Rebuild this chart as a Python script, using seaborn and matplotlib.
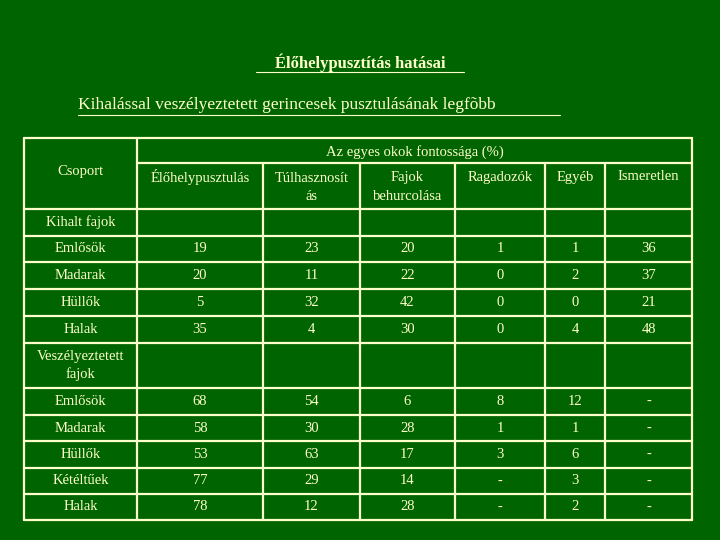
import matplotlib
matplotlib.use("Agg")
import matplotlib.pyplot as plt
import seaborn as sns

sns.set_style("white")
plt.rcParams['font.family'] = ['Liberation Serif', 'DejaVu Serif']

BG = "#006400"
FG = "#FFFFCC"

title = "Élőhelypusztítás hatásai"
subtitle = "Kihalással veszélyeztetett gerincesek pusztulásának legfõbb"
header_group = "Az egyes okok fontossága (%)"
corner = "Csoport"
causes = ["Élőhelypusztulás", "Túlhasznosít\nás", "Fajok\nbehurcolása",
          "Ragadozók", "Egyéb", "Ismeretlen"]

section_extinct = "Kihalt fajok"
extinct_groups = ["Emlősök", "Madarak", "Hüllők", "Halak"]
extinct_values = [
    ["19", "23", "20", "1", "1", "36"],
    ["20", "11", "22", "0", "2", "37"],
    ["5", "32", "42", "0", "0", "21"],
    ["35", "4", "30", "0", "4", "48"],
]
section_threat = "Veszélyeztetett\nfajok"
threat_groups = ["Emlősök", "Madarak", "Hüllők", "Kétéltűek", "Halak"]
threat_values = [
    ["68", "54", "6", "8", "12", "-"],
    ["58", "30", "28", "1", "1", "-"],
    ["53", "63", "17", "3", "6", "-"],
    ["77", "29", "14", "-", "3", "-"],
    ["78", "12", "28", "-", "2", "-"],
]

# layout in pixel space
col_x = [24, 137, 263, 360, 455, 545, 605, 692]
row_y = [138, 163, 209, 236, 262, 289, 316, 343, 388, 415, 441, 468, 494, 520]

fig = plt.figure(figsize=(7.2, 5.4), dpi=100, facecolor=BG)
ax = fig.add_axes([0, 0, 1, 1])
ax.set_facecolor(BG)
ax.set_xlim(0, 720)
ax.set_ylim(540, 0)
ax.axis("off")

fs = 10.5
ax.text(360, 63, title, ha="center", va="center", color=FG, fontsize=12, fontweight="bold")
ax.plot([256, 464], [72, 72], color=FG, lw=0.8)
ax.text(78, 105, subtitle, ha="left", va="center", color=FG, fontsize=12.5)
ax.plot([78, 560], [115, 115], color=FG, lw=0.8)

lw = 1.6
# outer box and lines
for y in row_y:
    if y == 163:
        ax.plot([col_x[1], col_x[-1]], [y, y], color=FG, lw=lw)
    else:
        ax.plot([col_x[0], col_x[-1]], [y, y], color=FG, lw=lw)
for i, x in enumerate(col_x):
    top = row_y[0] if i in (0, 1, len(col_x) - 1) else row_y[1]
    ax.plot([x, x], [top, row_y[-1]], color=FG, lw=lw)

def mid(a, b):
    return (a + b) / 2

ax.text(mid(col_x[0], col_x[1]), 172, corner, ha="center", va="center", color=FG, fontsize=fs)
ax.text(mid(col_x[1], col_x[-1]), 152, header_group, ha="center", va="center", color=FG, fontsize=fs)
for j, c in enumerate(causes):
    ax.text(mid(col_x[j + 1], col_x[j + 2]), 177 if "\n" not in c else 187, c,
            ha="center", va="center", color=FG, fontsize=fs, linespacing=1.5)

def section(r, label, groups, values):
    ax.text(mid(col_x[0], col_x[1]), mid(row_y[r], row_y[r + 1]), label,
            ha="center", va="center", color=FG, fontsize=fs, linespacing=1.4)
    for k, (g, vals) in enumerate(zip(groups, values)):
        rr = r + 1 + k
        yc = mid(row_y[rr], row_y[rr + 1])
        ax.text(mid(col_x[0], col_x[1]), yc, g, ha="center", va="center", color=FG, fontsize=fs)
        for j, v in enumerate(vals):
            ax.text(mid(col_x[j + 1], col_x[j + 2]), yc, v, ha="center", va="center", color=FG, fontsize=fs)

section(2, section_extinct, extinct_groups, extinct_values)
section(7, section_threat, threat_groups, threat_values)

fig.savefig("out.png", dpi=100, facecolor=BG)
